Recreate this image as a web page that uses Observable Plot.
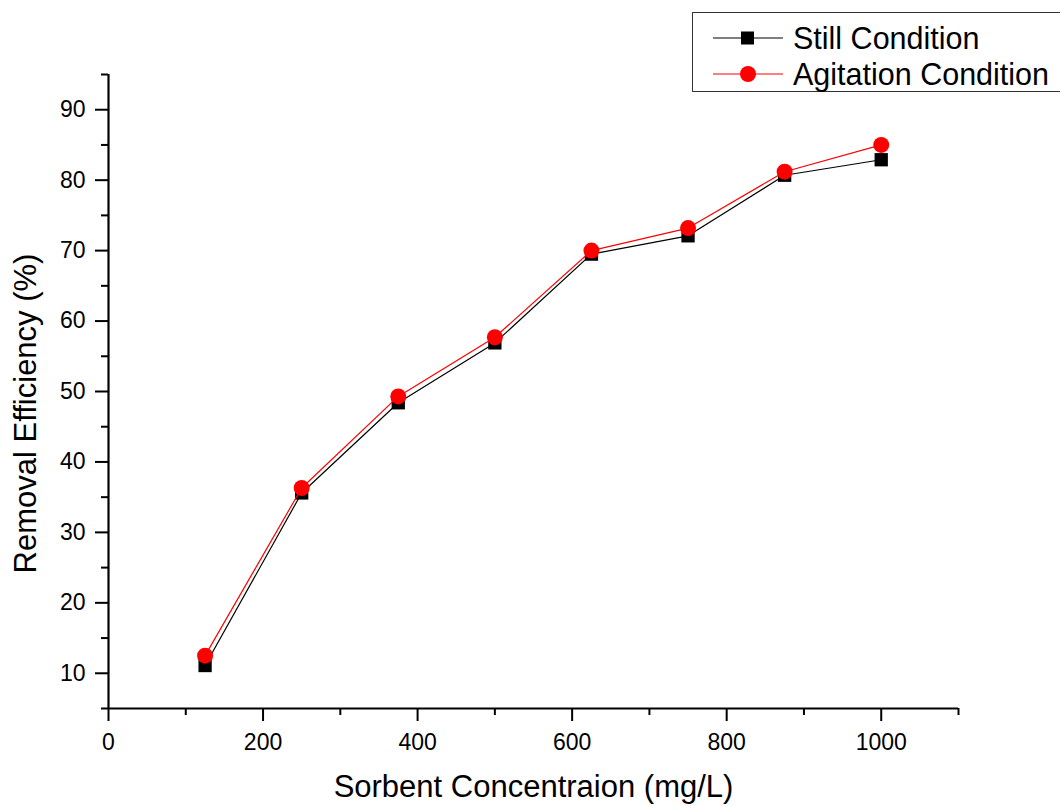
<!DOCTYPE html>
<html>
<head>
<meta charset="utf-8">
<script src="https://cdn.jsdelivr.net/npm/d3@7"></script>
<script src="https://cdn.jsdelivr.net/npm/@observablehq/plot@0.6"></script>
<style>
  html, body { margin: 0; padding: 0; background: #fff; }
  #wrap { position: relative; width: 1060px; height: 806px; font-family: "Liberation Sans", Arial, sans-serif; }
  #legend { position: absolute; left: 692px; top: 12px; width: 368px; height: 80px; border: 1px solid #333; border-right: none; background: #fff; box-sizing: border-box; }
  #legend .row { position: absolute; left: 0; height: 36px; display: flex; align-items: center; }
  #legend svg { display: block; }
  #legend span { font-size: 30.5px; color: #000; margin-left: 10px; white-space: nowrap; }
</style>
</head>
<body>
<div id="wrap"></div>
<script>
const concentration = [125, 250, 375, 500, 625, 750, 875, 1000];
const stillCondition = [11.1, 35.6, 48.4, 56.9, 69.5, 72.1, 80.7, 82.9];
const agitationCondition = [12.5, 36.3, 49.3, 57.7, 70.0, 73.2, 81.2, 85.0];
const seriesNames = ["Still Condition", "Agitation Condition"];
const yMajor = [10, 20, 30, 40, 50, 60, 70, 80, 90];
const yMinor = [5, 15, 25, 35, 45, 55, 65, 75, 85, 95];
const xMajor = [0, 200, 400, 600, 800, 1000];
const xMinor = [100, 300, 500, 700, 900, 1100];

const still = concentration.map((c, i) => ({x: c, y: stillCondition[i]}));
const agit = concentration.map((c, i) => ({x: c, y: agitationCondition[i]}));

const font = "'Liberation Sans', Arial, sans-serif";
const fmt = d => String(d);

const W = 1060, H = 806, ML = 108, MR = 102, MT = 74, MB = 98;
const FW = W - ML - MR, FH = H - MT - MB;

const chart = Plot.plot({
  width: W,
  height: H,
  marginLeft: ML,
  marginRight: MR,
  marginTop: MT,
  marginBottom: MB,
  style: {fontFamily: font, fontSize: "23px", color: "#000", background: "#fff"},
  x: {domain: [0, 1100]},
  y: {domain: [5, 95]},
  marks: [
    // tick labels
    Plot.axisY(yMajor, {tickSize: 0, tickPadding: 23, fontSize: 23, fill: "#000", label: null, tickFormat: fmt}),
    Plot.axisX(xMajor, {tickSize: 0, tickPadding: 25, fontSize: 23, fill: "#000", label: null, tickFormat: fmt}),
    // tick marks (outward)
    Plot.tickY(yMajor, {y: d => d, stroke: "#000", strokeWidth: 2, insetLeft: -13, insetRight: FW}),
    Plot.tickY(yMinor, {y: d => d, stroke: "#000", strokeWidth: 2, insetLeft: -7, insetRight: FW}),
    Plot.tickX(xMajor, {x: d => d, stroke: "#000", strokeWidth: 2, insetTop: FH, insetBottom: -13}),
    Plot.tickX(xMinor, {x: d => d, stroke: "#000", strokeWidth: 2, insetTop: FH, insetBottom: -7}),
    // axis lines
    Plot.ruleX([0], {stroke: "#000", strokeWidth: 2.2, y1: 5, y2: 95}),
    Plot.ruleY([5], {stroke: "#000", strokeWidth: 2.2, x1: 0, x2: 1100}),
    // axis titles
    Plot.text(["Sorbent Concentraion (mg/L)"], {frameAnchor: "bottom", textAnchor: "middle", dy: 88, fontSize: 31, fill: "#000", lineAnchor: "bottom"}),
    Plot.text(["Removal Efficiency (%)"], {frameAnchor: "left", textAnchor: "middle", dx: -73, dy: 22, rotate: -90, fontSize: 31, fill: "#000", lineAnchor: "bottom"}),
    // series
    Plot.line(still, {x: "x", y: "y", stroke: "#000", strokeWidth: 1.2}),
    Plot.dot(still, {x: "x", y: "y", symbol: "square", r: 7.5, fill: "#000", stroke: "none"}),
    Plot.line(agit, {x: "x", y: "y", stroke: "#ff0000", strokeWidth: 1.2}),
    Plot.dot(agit, {x: "x", y: "y", symbol: "circle", r: 8, fill: "#ff0000", stroke: "none"})
  ]
});

const wrap = document.getElementById("wrap");
wrap.appendChild(chart);

// Legend
const legend = document.createElement("div");
legend.id = "legend";
const items = [
  {name: seriesNames[0], color: "#000", shape: "square", top: 7},
  {name: seriesNames[1], color: "#ff0000", shape: "circle", top: 43}
];
for (const it of items) {
  const row = document.createElement("div");
  row.className = "row";
  row.style.top = it.top + "px";
  row.style.left = "20px";
  const marker = it.shape === "square"
    ? `<rect x="28" y="11.5" width="13" height="13" fill="${it.color}"/>`
    : `<circle cx="35" cy="18" r="8" fill="${it.color}"/>`;
  row.innerHTML = `<svg width="70" height="36"><line x1="0" y1="18" x2="70" y2="18" stroke="${it.color}" stroke-width="1.2"/>${marker}</svg><span>${it.name}</span>`;
  legend.appendChild(row);
}
wrap.appendChild(legend);
</script>
</body>
</html>
